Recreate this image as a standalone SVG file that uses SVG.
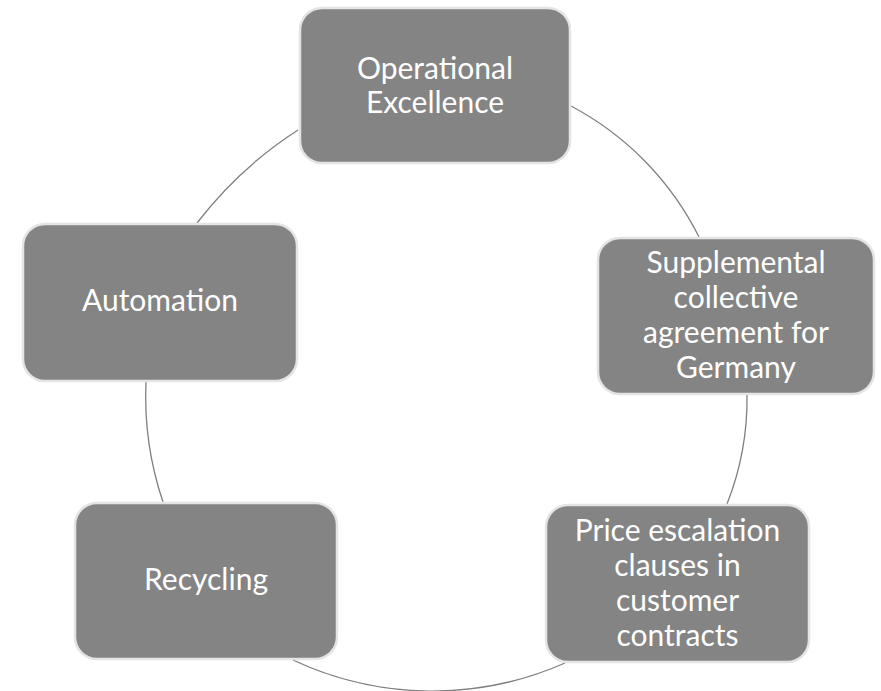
<svg xmlns="http://www.w3.org/2000/svg" width="881" height="691" viewBox="0 0 881 691">
  <style>
    .box { fill: #848484; stroke: #e4e4e4; stroke-width: 2.5; }
    .lbl { fill: #ffffff; font-family: Lato, "Open Sans", "Liberation Sans", sans-serif; font-size: 30px; text-anchor: middle; }
    .conn { fill: none; stroke: #808080; stroke-width: 1.3; }
  </style>
  <rect width="881" height="691" fill="#ffffff"/>
  <g id="connectors">
    <path class="conn" d="M571,106 A300,300 0 0 1 699,237"/>
    <path class="conn" d="M747,395 A285,285 0 0 1 727,504"/>
    <path class="conn" d="M565,663 A328,328 0 0 1 293,660"/>
    <path class="conn" d="M163,502 A330,330 0 0 1 146,382"/>
    <path class="conn" d="M197,223 A400,400 0 0 1 298,130"/>
  </g>
  <g id="node-operational-excellence">
    <rect class="box" x="300" y="8" width="270" height="155" rx="22"/>
    <text class="lbl" x="435" y="79">Operational</text>
    <text class="lbl" x="435" y="113">Excellence</text>
  </g>
  <g id="node-supplemental">
    <rect class="box" x="598" y="238" width="276" height="156" rx="22"/>
    <text class="lbl" x="736" y="273">Supplemental</text>
    <text class="lbl" x="736" y="308">collective</text>
    <text class="lbl" x="736" y="343">agreement for</text>
    <text class="lbl" x="736" y="378">Germany</text>
  </g>
  <g id="node-price-escalation">
    <rect class="box" x="546" y="505" width="263" height="157" rx="22"/>
    <text class="lbl" x="677.5" y="541">Price escalation</text>
    <text class="lbl" x="677.5" y="576">clauses in</text>
    <text class="lbl" x="677.5" y="611">customer</text>
    <text class="lbl" x="677.5" y="646">contracts</text>
  </g>
  <g id="node-recycling">
    <rect class="box" x="75" y="503" width="262" height="156" rx="22"/>
    <text class="lbl" x="206" y="590">Recycling</text>
  </g>
  <g id="node-automation">
    <rect class="box" x="23" y="224" width="274" height="157" rx="22"/>
    <text class="lbl" x="160" y="311">Automation</text>
  </g>
</svg>
